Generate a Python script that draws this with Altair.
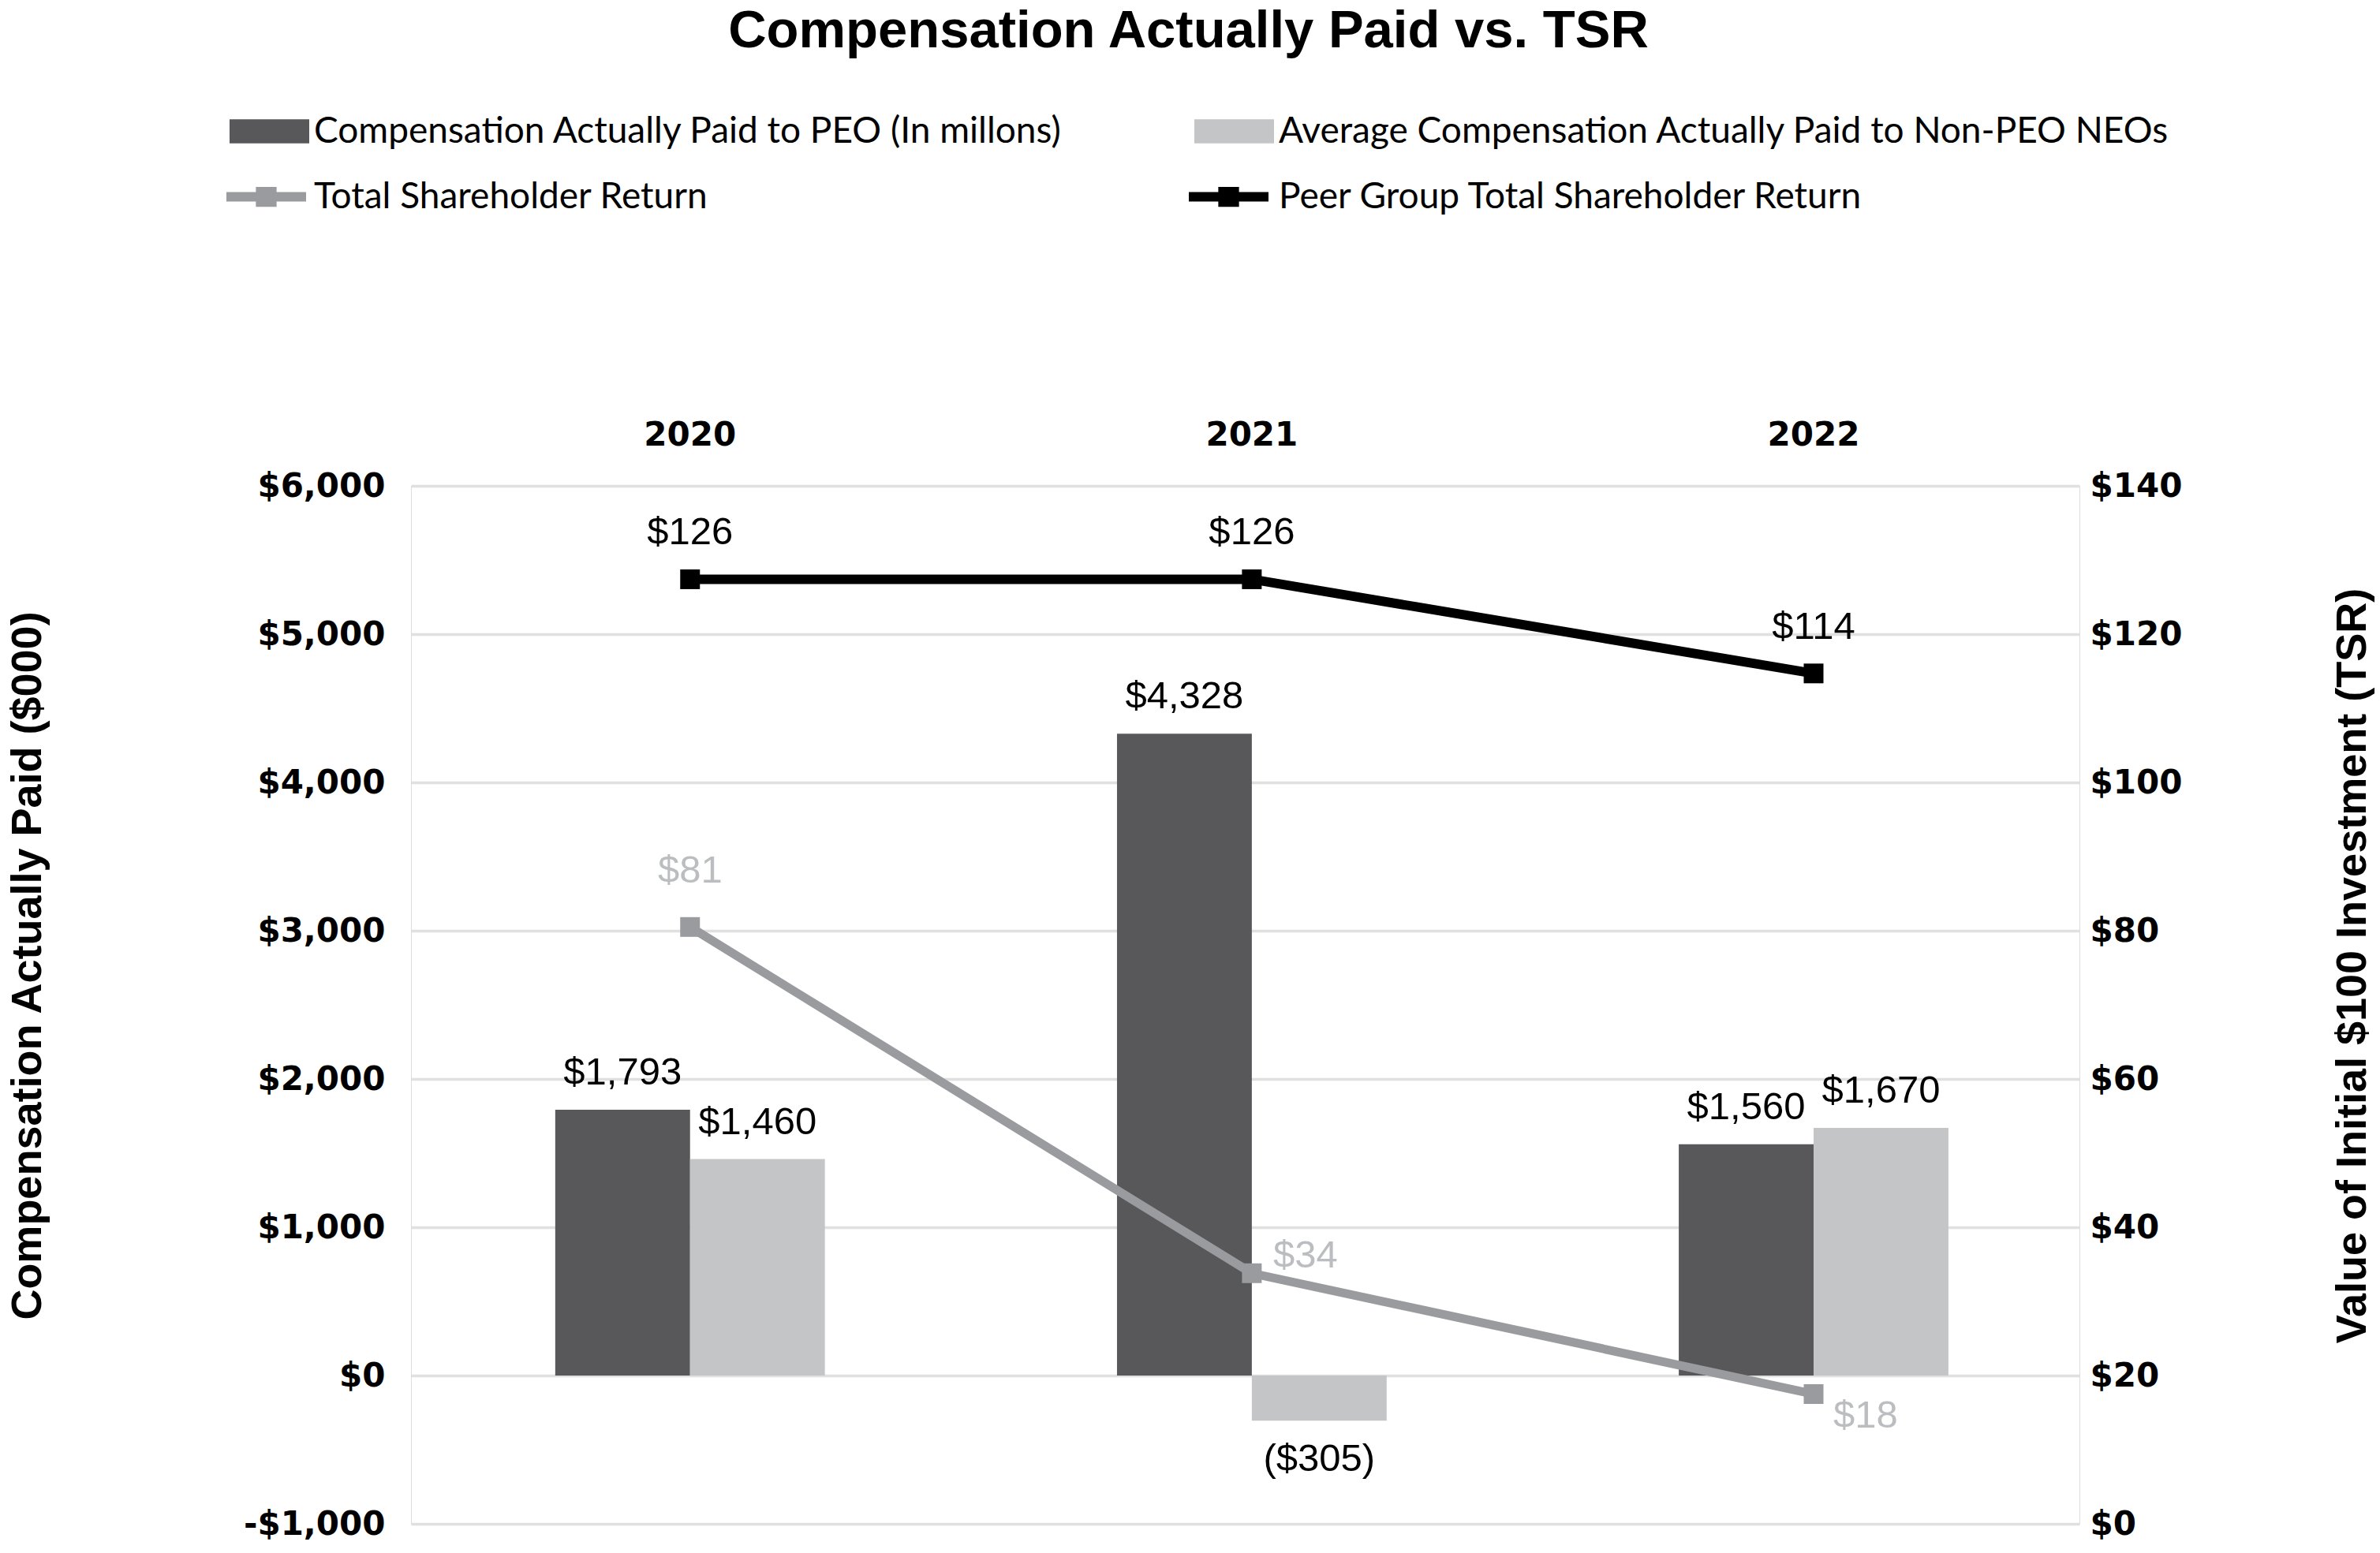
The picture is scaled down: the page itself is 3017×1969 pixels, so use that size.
import altair as alt
import pandas as pd

# ---------------- data ----------------
years = ["2020", "2021", "2022"]
peo_values = [1793, 4328, 1560]
neo_values = [1460, -305, 1670]
peo_labels = ["$1,793", "$4,328", "$1,560"]
neo_labels = ["$1,460", "($305)", "$1,670"]
tsr_values = [80.5, 33.8, 17.5]
peer_values = [127.4, 127.4, 114.7]
tsr_labels = ["$81", "$34", "$18"]
peer_labels = ["$126", "$126", "$114"]

PEO = "Compensation Actually Paid to PEO (In millons)"
NEO = "Average Compensation Actually Paid to Non-PEO NEOs"
TSR = "Total Shareholder Return"
PEER = "Peer Group Total Shareholder Return"

C_PEO = "#58585a"
C_NEO = "#c4c5c7"
C_TSR = "#9a9b9f"
C_TSR_LBL = "#bcbdc0"
C_PEER = "#000000"

bars_df = pd.DataFrame({
    "year": years * 2,
    "series": [PEO] * 3 + [NEO] * 3,
    "value": peo_values + neo_values,
    "label": peo_labels + neo_labels,
})
lines_df = pd.DataFrame({
    "year": years * 2,
    "series": [TSR] * 3 + [PEER] * 3,
    "value": tsr_values + peer_values,
    "label": tsr_labels + peer_labels,
})

# ---------------- style helpers ----------------
LBL_FONT = "Liberation Sans"
LBL_SIZE = 49
AX_FONT = "DejaVu Sans"
LEG_FONT = "Lato"

RECT_PATH = "M-1,-0.3H1V0.3H-1Z"
LINE_PATH = "M-1,-0.12H1V0.12H-1Z M-0.26,-0.25H0.26V0.25H-0.26Z"


def legend(x, y, path, col, offset):
    return alt.Legend(
        orient="none", legendX=x, legendY=y, title=None,
        symbolType=path, symbolSize=10201, symbolFillColor=col,
        symbolStrokeColor=col, symbolStrokeWidth=0, symbolOpacity=1,
        labelFont=LEG_FONT, labelFontSize=46, labelColor="black",
        labelOffset=offset, labelLimit=3000, padding=0,
    )


x_enc = alt.X(
    "year:N",
    sort=years,
    scale=alt.Scale(paddingInner=0.52, paddingOuter=0.245, align=0.524),
    axis=alt.Axis(orient="top", title=None, labelAngle=0, ticks=False,
                  domain=False, grid=False, labelFont=AX_FONT,
                  labelFontWeight="bold", labelFontSize=42,
                  labelColor="black", labelPadding=43),
)
xoff = alt.XOffset("series:N", scale=alt.Scale(domain=[PEO, NEO]), sort=[PEO, NEO])

y_left = alt.Y(
    "value:Q",
    scale=alt.Scale(domain=[-1000, 6000], nice=False, zero=False),
    axis=alt.Axis(
        orient="left", values=list(range(-1000, 6001, 1000)),
        labelExpr="datum.value < 0 ? '-$' + format(-datum.value, ',') : '$' + format(datum.value, ',')",
        labelFont=AX_FONT, labelFontWeight="bold", labelFontSize=42,
        labelColor="black", labelPadding=33, ticks=False, domain=False,
        grid=True, gridColor="#e0e0e0", gridWidth=3.5,
        title="Compensation Actually Paid ($000)", titleFont="Liberation Sans",
        titleFontWeight="bold", titleFontSize=54, titleColor="black",
        titleAngle=270, titleX=-486, titleY=608, titleAlign="center",
        titleBaseline="middle",
    ),
)
y_right = alt.Y(
    "value:Q",
    scale=alt.Scale(domain=[0, 140], nice=False),
    axis=alt.Axis(
        orient="right", values=list(range(0, 141, 20)),
        labelExpr="'$' + format(datum.value, ',')",
        labelFont=AX_FONT, labelFontWeight="bold", labelFontSize=42,
        labelColor="black", labelPadding=13, ticks=False, domain=False,
        grid=False,
        title="Value of Initial $100 Investment (TSR)", titleFont="Liberation Sans",
        titleFontWeight="bold", titleFontSize=54, titleColor="black",
        titleAngle=270, titleX=346, titleY=608, titleAlign="center",
        titleBaseline="middle",
    ),
)

# ---------------- bars ----------------
bar_base = alt.Chart(bars_df)

peo_bar = bar_base.transform_filter(alt.datum.series == PEO).mark_bar().encode(
    x=x_enc, xOffset=xoff, y=y_left,
    color=alt.Color("series:N", scale=alt.Scale(domain=[PEO], range=[C_PEO]),
                    legend=legend(-230, -500, RECT_PATH, C_PEO, 6)),
)
neo_bar = bar_base.transform_filter(alt.datum.series == NEO).mark_bar().encode(
    x=x_enc, xOffset=xoff, y=y_left,
    color=alt.Color("series:N", scale=alt.Scale(domain=[NEO], range=[C_NEO]),
                    legend=legend(993, -500, RECT_PATH, C_NEO, 6)),
)

txt_kw = dict(font=LBL_FONT, fontSize=LBL_SIZE, baseline="middle", align="center")

bar_lbl_up = bar_base.transform_filter(alt.datum.value >= 0).mark_text(
    dy=-47, color="black", **txt_kw
).encode(x=x_enc, xOffset=xoff, y=y_left, text="label:N")
bar_lbl_down = bar_base.transform_filter(alt.datum.value < 0).mark_text(
    dy=49, color="black", **txt_kw
).encode(x=x_enc, xOffset=xoff, y=y_left, text="label:N")

bars_layer = alt.layer(peo_bar, neo_bar, bar_lbl_up, bar_lbl_down).resolve_scale(
    color="independent")

# ---------------- lines ----------------
line_base = alt.Chart(lines_df)

tsr_line = line_base.transform_filter(alt.datum.series == TSR).mark_line(
    strokeWidth=11,
    point=alt.OverlayMarkDef(shape="square", size=625, filled=True, opacity=1),
).encode(
    x=x_enc, y=y_right,
    color=alt.Color("series:N", scale=alt.Scale(domain=[TSR], range=[C_TSR]),
                    legend=legend(-234, -417, LINE_PATH, C_TSR, 10)),
)
peer_line = line_base.transform_filter(alt.datum.series == PEER).mark_line(
    strokeWidth=12,
    point=alt.OverlayMarkDef(shape="square", size=625, filled=True, opacity=1),
).encode(
    x=x_enc, y=y_right,
    color=alt.Color("series:N", scale=alt.Scale(domain=[PEER], range=[C_PEER]),
                    legend=legend(986, -417, LINE_PATH, C_PEER, 13)),
)

peer_lbl = line_base.transform_filter(alt.datum.series == PEER).mark_text(
    dy=-59, color="black", **txt_kw
).encode(x=x_enc, y=y_right, text="label:N")

tsr_lbl_a = line_base.transform_filter(
    (alt.datum.series == TSR) & (alt.datum.year == "2020")
).mark_text(dy=-71, color=C_TSR_LBL, **txt_kw).encode(x=x_enc, y=y_right, text="label:N")
tsr_lbl_b = line_base.transform_filter(
    (alt.datum.series == TSR) & (alt.datum.year == "2021")
).mark_text(dx=68, dy=-22, color=C_TSR_LBL, **txt_kw).encode(x=x_enc, y=y_right, text="label:N")
tsr_lbl_c = line_base.transform_filter(
    (alt.datum.series == TSR) & (alt.datum.year == "2022")
).mark_text(dx=66, dy=27, color=C_TSR_LBL, **txt_kw).encode(x=x_enc, y=y_right, text="label:N")

lines_layer = alt.layer(tsr_line, peer_line, peer_lbl, tsr_lbl_a, tsr_lbl_b, tsr_lbl_c
                        ).resolve_scale(color="independent")

chart = alt.layer(bars_layer, lines_layer).resolve_scale(
    y="independent", color="independent"
).properties(
    width=2115, height=1316,
    padding={"left": 521, "top": 616, "right": 381, "bottom": 37},
    autosize="none",
    title=alt.Title("Compensation Actually Paid vs. TSR", font="Liberation Sans",
                    fontSize=67, fontWeight="bold", color="black",
                    anchor="middle", dx=-72, offset=42),
).configure_view(stroke=None).configure(background="white")

chart.save("out.html", embed_options={"renderer": "svg", "actions": False})
